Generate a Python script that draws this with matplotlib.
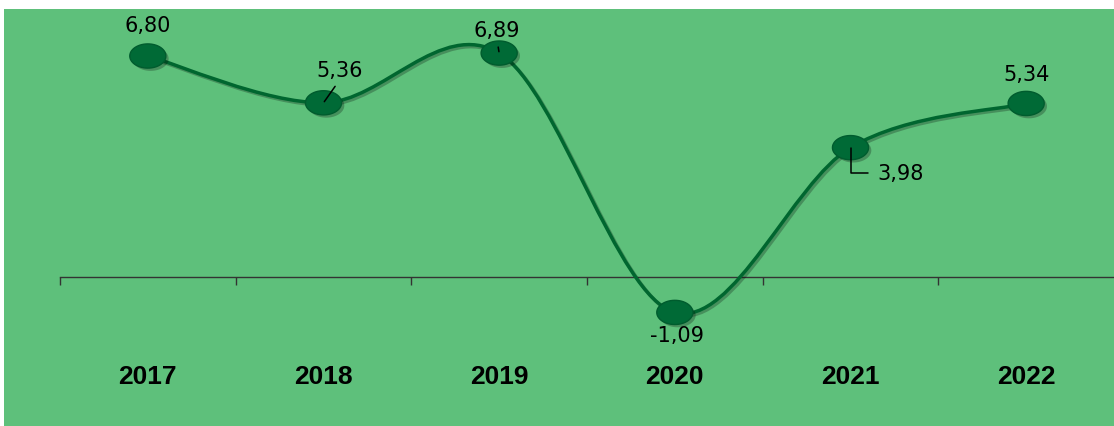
import matplotlib
matplotlib.use("Agg")
import matplotlib.pyplot as plt
import numpy as np
from matplotlib.path import Path
from matplotlib.patches import PathPatch, Rectangle
import matplotlib.patheffects as pe

years = ["2017", "2018", "2019", "2020", "2021", "2022"]
values = [6.80, 5.36, 6.89, -1.09, 3.98, 5.34]
value_labels = ["6,80", "5,36", "6,89", "-1,09", "3,98", "5,34"]

W, H = 1114, 427
fig = plt.figure(figsize=(W / 100, H / 100), dpi=100)
fig.patch.set_facecolor("white")
BG = "#5EC07B"
fig.patches.append(Rectangle((4 / W, 0), 1 - 4 / W, (H - 10) / H,
                             transform=fig.transFigure, facecolor=BG,
                             edgecolor="none", zorder=-10))

ax = fig.add_axes([60 / W, 37 / H, (W - 60) / W, (417 - 37) / H])
ax.set_facecolor("none")
ax.set_zorder(1)
ax.set_xlim(-0.5, 5.5)
px = 32.5
ax.set_ylim(-(390 - 278) / px, (278 - 10) / px)

for s in ["top", "right", "left"]:
    ax.spines[s].set_visible(False)
ax.spines["bottom"].set_position(("data", 0))
ax.spines["bottom"].set_color("#333333")
ax.spines["bottom"].set_linewidth(1.0)
ax.set_yticks([])

x = np.arange(len(values))
ax.set_xticks(x, labels=years)
ax.set_xticks(np.arange(len(values)) - 0.5, minor=True)
ax.tick_params(axis="x", which="major", length=0, pad=62.5,
               labelsize=19)
ax.tick_params(axis="x", which="minor", length=6, width=1.0,
               color="#333333", direction="out")
for t in ax.get_xticklabels():
    t.set_fontfamily("Liberation Sans")
    t.set_fontweight("bold")
    t.set_color("black")

# smoothed line (Catmull-Rom style Bezier, like Excel smoothing)
P = np.column_stack([x, values]).astype(float)
n = len(P)
verts = [tuple(P[0])]
codes = [Path.MOVETO]
for i in range(n - 1):
    p0 = P[max(i - 1, 0)]
    p1 = P[i]
    p2 = P[i + 1]
    p3 = P[min(i + 2, n - 1)]
    c1 = p1 + (p2 - p0) / 6.0
    c2 = p2 - (p3 - p1) / 6.0
    verts += [tuple(c1), tuple(c2), tuple(p2)]
    codes += [Path.CURVE4] * 3
LINE = "#00662F"
patch = PathPatch(Path(verts, codes), facecolor="none", edgecolor=LINE,
                  linewidth=2.5, zorder=3, capstyle="round")
patch.set_path_effects([pe.SimpleLineShadow(offset=(1.5, -1.5), shadow_color="black", alpha=0.25),
                        pe.Normal()])
ax.add_patch(patch)

th = np.linspace(0, 2 * np.pi, 60)
ell = Path(np.column_stack([np.cos(th), 0.67 * np.sin(th)]))
ax.plot(x, values, linestyle="none", marker=ell, markersize=26,
        markerfacecolor="#006A36", markeredgecolor="#005C2E",
        markeredgewidth=1.0, zorder=4,
        path_effects=[pe.SimplePatchShadow(offset=(2, -2), shadow_rgbFace="black", alpha=0.25),
                      pe.Normal()])

# value labels: offsets in points (dx, dy), leader style
offsets = [(0, 22), (11.5, 23.5), (-1.5, 16.5), (1.5, -16), (36, -18), (0, 21)]
leaders = [None, "straight", "straight", None, "angle", None]
for i, (v, lab) in enumerate(zip(values, value_labels)):
    kw = dict(xy=(x[i], v), xytext=offsets[i], textcoords="offset points",
              ha="center", va="center", fontsize=15, color="black",
              fontfamily="DejaVu Sans", zorder=6)
    if leaders[i] == "straight":
        kw["arrowprops"] = dict(arrowstyle="-", color="black", lw=1.1,
                                shrinkA=3, shrinkB=1, relpos=(0.5, 0.0))
    elif leaders[i] == "angle":
        kw["arrowprops"] = dict(arrowstyle="-", color="black", lw=1.1,
                                shrinkA=5, shrinkB=0, relpos=(0.0, 0.5),
                                connectionstyle="angle,angleA=0,angleB=90,rad=0")
    ax.annotate(lab, **kw)

fig.savefig("out.png", dpi=100, facecolor=fig.get_facecolor())
